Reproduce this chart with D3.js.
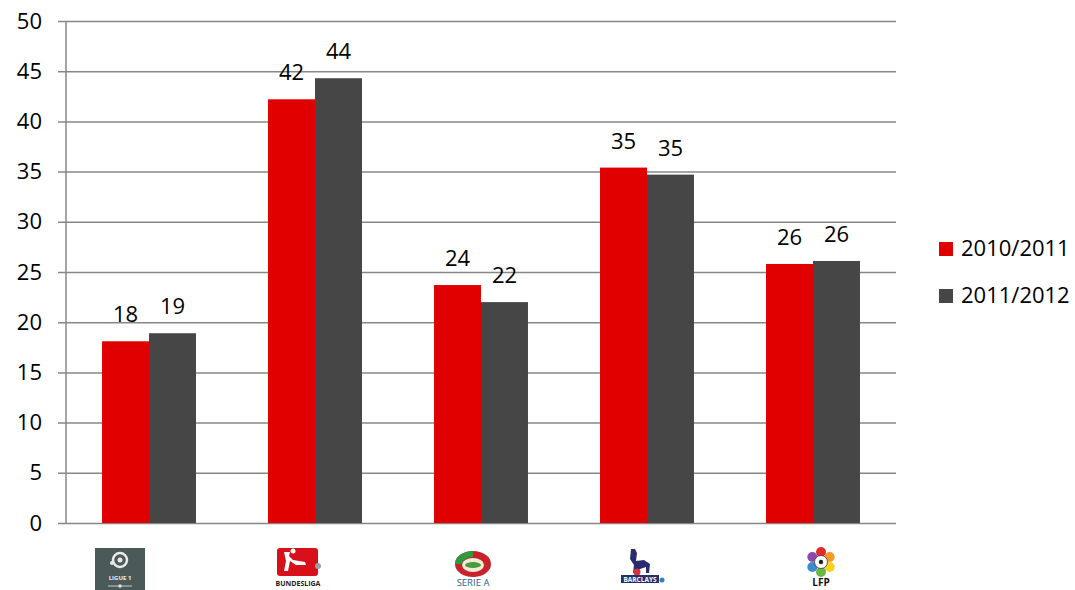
<!DOCTYPE html>
<html>
<head>
<meta charset="utf-8">
<script src="https://cdn.jsdelivr.net/npm/d3@7"></script>
<style>
  body { margin: 0; background: #fff; }
  text { font-family: "Open Sans", sans-serif; }
</style>
</head>
<body>
<script>
// data
var leagues = ["Ligue 1", "Bundesliga", "Serie A", "Premier League", "LFP"];
var seasons = ["2010/2011", "2011/2012"];
var s2010 = [18.1, 42.2, 23.7, 35.4, 25.8];
var s2011 = [18.9, 44.3, 22.0, 34.7, 26.1];
var yTicks = [0, 5, 10, 15, 20, 25, 30, 35, 40, 45, 50];
var colors = ["#e10000", "#464646"];

var W = 1075, H = 590;
var plotLeft = 66, plotRight = 896, plotTop = 21, plotBottom = 523;

var svg = d3.select("body").append("svg")
    .attr("width", W)
    .attr("height", H);

var y = d3.scaleLinear().domain([0, 50]).range([plotBottom, plotTop]);

var x0 = d3.scaleBand()
    .domain(leagues)
    .range([plotLeft, plotRight])
    .paddingInner(0.434)
    .paddingOuter(0.217);

var x1 = d3.scaleBand()
    .domain(seasons)
    .range([0, x0.bandwidth()]);

// gridlines + y axis
var yAxis = d3.axisLeft(y)
    .tickValues(yTicks)
    .tickSize(-(plotRight - plotLeft + 8))
    .tickPadding(16)
    .tickFormat(d3.format("d"));

var gy = svg.append("g")
    .attr("transform", "translate(" + (plotLeft - 8) + ",0)")
    .call(yAxis);
gy.select(".domain").remove();
gy.selectAll(".tick line")
    .attr("stroke", "#878787")
    .attr("stroke-width", 1.5);
gy.selectAll(".tick text")
    .attr("fill", "#000")
    .attr("font-size", 22);

// vertical axis line
svg.append("line")
    .attr("x1", plotLeft).attr("x2", plotLeft)
    .attr("y1", y(50)).attr("y2", y(0))
    .attr("stroke", "#878787")
    .attr("stroke-width", 1.5);

// bars
var rows = leagues.map(function(l, i) {
  return { league: l, vals: [s2010[i], s2011[i]] };
});

var groups = svg.selectAll(".grp")
    .data(rows)
    .enter().append("g")
    .attr("class", "grp")
    .attr("transform", function(d) { return "translate(" + x0(d.league) + ",0)"; });

groups.selectAll("rect")
    .data(function(d) { return d.vals.map(function(v, j) { return { s: seasons[j], v: v, j: j }; }); })
    .enter().append("rect")
    .attr("x", function(d) { return x1(d.s); })
    .attr("y", function(d) { return y(d.v); })
    .attr("width", x1.bandwidth())
    .attr("height", function(d) { return y(0) - y(d.v); })
    .attr("fill", function(d) { return colors[d.j]; });

groups.selectAll("text.lbl")
    .data(function(d) { return d.vals.map(function(v, j) { return { s: seasons[j], v: v }; }); })
    .enter().append("text")
    .attr("class", "lbl")
    .attr("x", function(d) { return x1(d.s) + x1.bandwidth() / 2; })
    .attr("y", function(d) { return y(d.v) - 19; })
    .attr("text-anchor", "middle")
    .attr("font-size", 22)
    .text(function(d) { return d3.format(".0f")(d.v); });

// legend
var legend = svg.append("g").attr("transform", "translate(939,242)");
seasons.forEach(function(s, i) {
  legend.append("rect")
      .attr("x", 0).attr("y", i * 47)
      .attr("width", 14).attr("height", 14)
      .attr("fill", colors[i]);
  legend.append("text")
      .attr("x", 22).attr("y", i * 47 + 14)
      .attr("font-size", 22)
      .text(s);
});

// league logos (drawn roughly)
function ligue1(g) {
  g.append("rect").attr("x", -25).attr("y", 548).attr("width", 50).attr("height", 42).attr("fill", "#4b5958");
  g.append("circle").attr("cx", 0).attr("cy", 560).attr("r", 7).attr("fill", "none").attr("stroke", "#e8e8e8").attr("stroke-width", 2.5);
  g.append("circle").attr("cx", 0).attr("cy", 560).attr("r", 2.5).attr("fill", "#e8e8e8");
  g.append("circle").attr("cx", -8).attr("cy", 563).attr("r", 2).attr("fill", "#e8e8e8");
  g.append("text").attr("x", 0).attr("y", 580).attr("text-anchor", "middle")
      .attr("font-size", 6).attr("font-weight", "bold").attr("fill", "#eee").text("LIGUE 1");
  g.append("line").attr("x1", -12).attr("x2", 12).attr("y1", 586).attr("y2", 586).attr("stroke", "#ccc").attr("stroke-width", 1);
  g.append("circle").attr("cx", 0).attr("cy", 586).attr("r", 1.8).attr("fill", "#ddd");
}
function bundesliga(g) {
  g.append("rect").attr("x", -21).attr("y", 548).attr("width", 41).attr("height", 28).attr("rx", 3).attr("fill", "#d8101a");
  g.append("path")
      .attr("d", "M-14,552 l6,0 l-1,4 l4,4 l12,2 l1,3 l-10,0 l-6,-4 l-2,10 l-4,0 l2,-10 z")
      .attr("fill", "#fff");
  g.append("circle").attr("cx", -5).attr("cy", 551).attr("r", 2.5).attr("fill", "#fff");
  g.append("circle").attr("cx", 20).attr("cy", 566).attr("r", 3).attr("fill", "#9aa0a4");
  g.append("text").attr("x", 0).attr("y", 586).attr("text-anchor", "middle")
      .attr("font-size", 7).attr("font-weight", "bold").attr("fill", "#222").text("BUNDESLIGA");
}
function seriea(g) {
  g.append("ellipse").attr("cx", 0).attr("cy", 564).attr("rx", 18).attr("ry", 13).attr("fill", "#c8222a");
  g.append("path").attr("d", "M-18,564 a18,13 0 0,1 18,-13 l0,6 a11,7 0 0,0 -11,7 z").attr("fill", "#2e9a3e");
  g.append("ellipse").attr("cx", 0).attr("cy", 565).attr("rx", 11).attr("ry", 7).attr("fill", "#f2ecd6");
  g.append("ellipse").attr("cx", 0).attr("cy", 565).attr("rx", 8).attr("ry", 3).attr("fill", "#4a9a3e");
  g.append("text").attr("x", 0).attr("y", 586).attr("text-anchor", "middle")
      .attr("font-size", 9.5).attr("fill", "#2c5c98").text("SERIE A");
}
function premier(g) {
  g.append("path")
      .attr("d", "M-10,549 l4,0 l2,4 l-1,8 l8,-1 l6,4 l-1,9 l-3,0 l0,-6 l-6,2 l-3,4 l-4,0 l1,-8 l-4,-6 z")
      .attr("fill", "#2a2a6e");
  g.append("circle").attr("cx", -4).attr("cy", 572).attr("r", 3.5).attr("fill", "#d8333a");
  g.append("rect").attr("x", -20).attr("y", 575).attr("width", 38).attr("height", 8).attr("fill", "#24306e");
  g.append("text").attr("x", -1).attr("y", 582).attr("text-anchor", "middle")
      .attr("font-size", 6.5).attr("font-weight", "bold").attr("fill", "#fff").text("BARCLAYS");
  g.append("circle").attr("cx", 21).attr("cy", 580).attr("r", 2.5).attr("fill", "#3a7ac0");
}
function lfp(g) {
  var pc = ["#e32b2b", "#f39b23", "#f5d31e", "#68b843", "#3a8bd0", "#8e4aa8"];
  pc.forEach(function(c, k) {
    var a = -Math.PI / 2 + k * Math.PI / 3;
    g.append("circle")
        .attr("cx", Math.cos(a) * 10).attr("cy", 562 + Math.sin(a) * 10)
        .attr("r", 5).attr("fill", c);
  });
  g.append("circle").attr("cx", 0).attr("cy", 562).attr("r", 6.5).attr("fill", "#fff").attr("stroke", "#333").attr("stroke-width", 0.8);
  g.append("circle").attr("cx", 0).attr("cy", 562).attr("r", 2.2).attr("fill", "#222");
  g.append("text").attr("x", 0).attr("y", 586).attr("text-anchor", "middle")
      .attr("font-size", 10).attr("font-weight", "bold").attr("fill", "#111").text("LFP");
}

var logoFns = [ligue1, bundesliga, seriea, premier, lfp];
var logoShift = [-29, -17, -8, -6, 8];
leagues.forEach(function(l, i) {
  var g = svg.append("g")
      .attr("transform", "translate(" + (x0(l) + x0.bandwidth() / 2 + logoShift[i]) + ",0)");
  logoFns[i](g);
});
</script>
</body>
</html>
